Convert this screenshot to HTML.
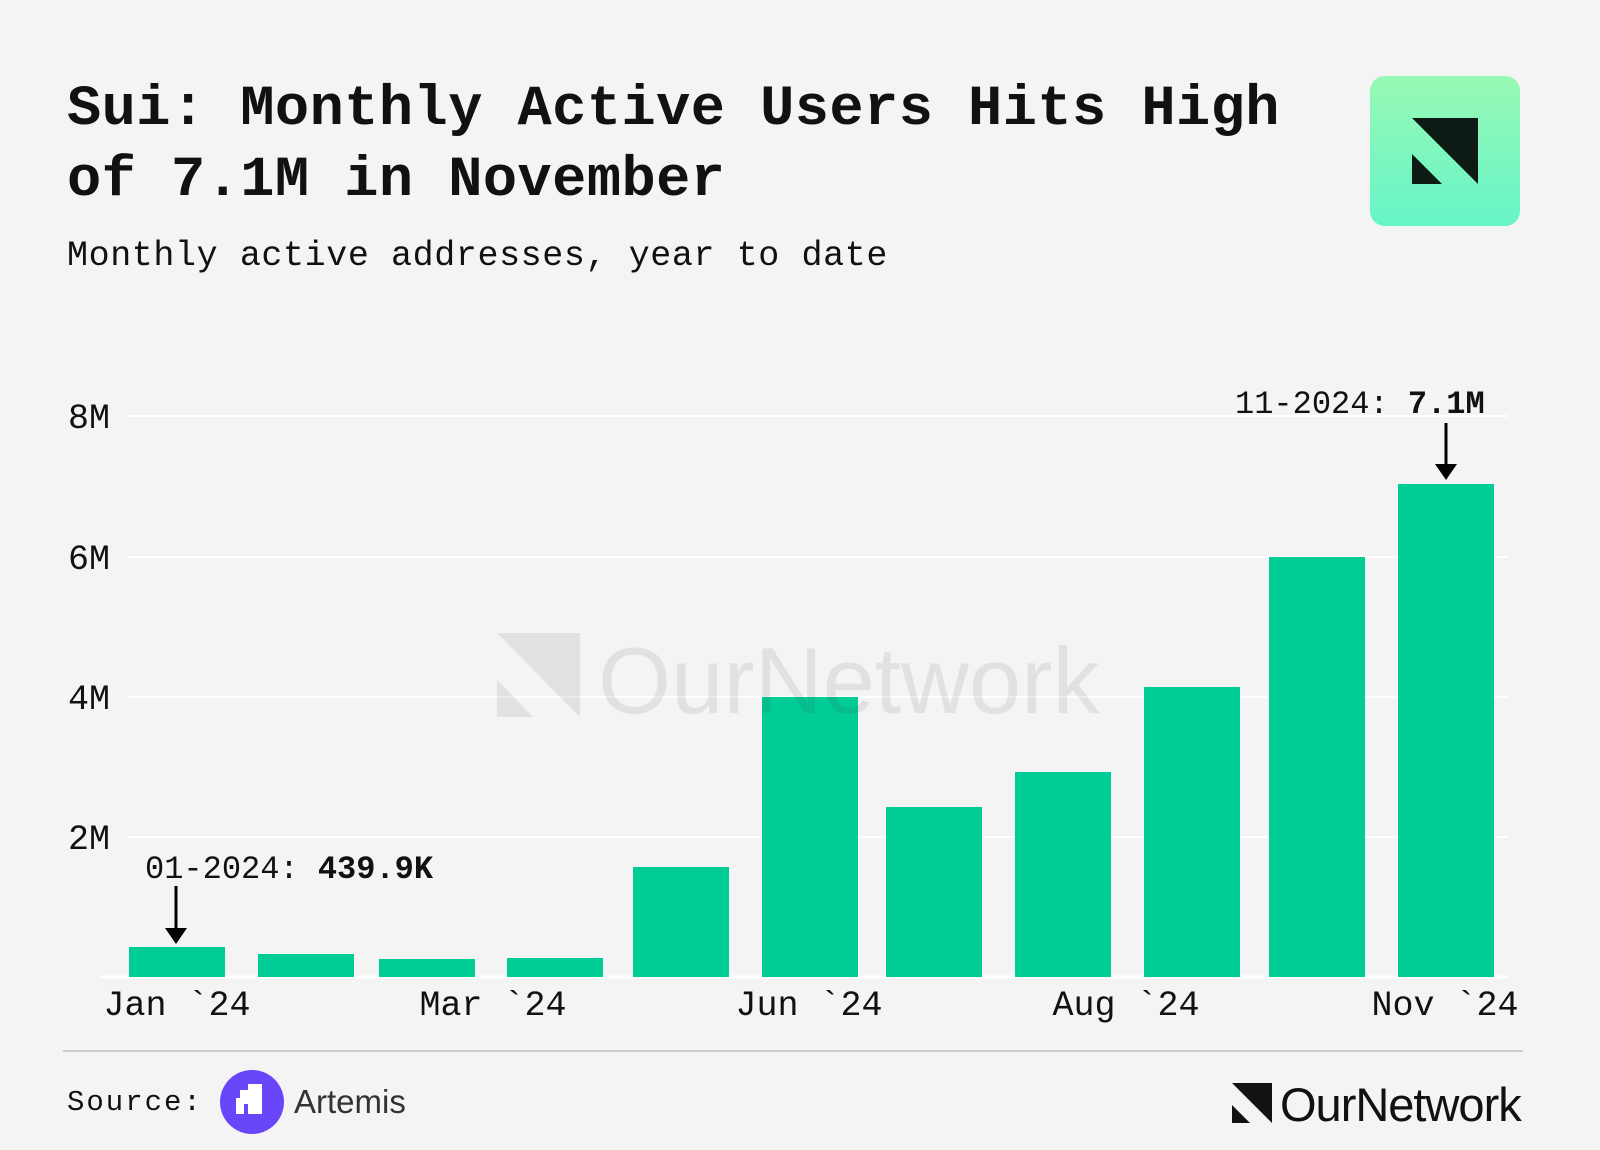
<!DOCTYPE html>
<html><head><meta charset="utf-8"><style>
html,body{margin:0;padding:0;background:#f4f4f4;}
svg{display:block}
</style></head><body>
<svg width="1600" height="1150" viewBox="0 0 1600 1150" xmlns="http://www.w3.org/2000/svg">
<defs><linearGradient id="g" x1="0" y1="0" x2="0" y2="1"><stop offset="0" stop-color="#98f9b4"/><stop offset="1" stop-color="#66f5c8"/></linearGradient></defs>
<rect width="1600" height="1150" fill="#f4f4f4"/>
<g font-family="Liberation Mono, monospace" fill="#111">
<text x="67" y="124" font-size="57" font-weight="bold" letter-spacing="0.45">Sui: Monthly Active Users Hits High</text>
<text x="67" y="195" font-size="57" font-weight="bold" letter-spacing="0.45">of 7.1M in November</text>
<text x="67" y="265" font-size="35" letter-spacing="0.6">Monthly active addresses, year to date</text>
</g>
<rect x="1370" y="76" width="150" height="150" rx="15" fill="url(#g)"/>
<g transform="translate(1412,118)" fill="#0e1a14"><polygon points="0,0 66,0 66,66"/><polygon points="0,36 0,66 30,66"/></g>
<g stroke="#ffffff" stroke-width="2">
<line x1="128" y1="416" x2="1508" y2="416"/><line x1="128" y1="557" x2="1508" y2="557"/><line x1="128" y1="697" x2="1508" y2="697"/><line x1="128" y1="837" x2="1508" y2="837"/><line x1="100" y1="977" x2="1508" y2="977" stroke-width="3"/>
</g>
<g font-family="Liberation Mono, monospace" font-size="35" fill="#111">
<text x="68" y="428">8M</text><text x="68" y="569">6M</text><text x="68" y="709">4M</text><text x="68" y="849">2M</text>
</g>
<g fill="#00cc96">
<rect x="129" y="947" width="96" height="30"/>
<rect x="258" y="954" width="96" height="23"/>
<rect x="379" y="959" width="96" height="18"/>
<rect x="507" y="958" width="96" height="19"/>
<rect x="633" y="867" width="96" height="110"/>
<rect x="762" y="697" width="96" height="280"/>
<rect x="886" y="807" width="96" height="170"/>
<rect x="1015" y="772" width="96" height="205"/>
<rect x="1144" y="687" width="96" height="290"/>
<rect x="1269" y="557" width="96" height="420"/>
<rect x="1398" y="484" width="96" height="493"/>
</g>
<g opacity="0.1" fill="#444">
<polygon points="497,633 580,633 580,717"/><polygon points="497,680 497,717 533,717"/>
<text x="598" y="713" font-family="Liberation Sans, sans-serif" font-size="94">OurNetwork</text>
</g>
<g font-family="Liberation Mono, monospace" font-size="35" fill="#111" text-anchor="middle">
<text x="177" y="1015">Jan `24</text><text x="493" y="1015">Mar `24</text><text x="809" y="1015">Jun `24</text><text x="1126" y="1015">Aug `24</text><text x="1445" y="1015">Nov `24</text>
</g>
<g font-family="Liberation Mono, monospace" font-size="32" fill="#111">
<text x="145" y="878">01-2024: <tspan font-weight="bold">439.9K</tspan></text>
<text x="1235" y="413">11-2024: <tspan font-weight="bold">7.1M</tspan></text>
</g>
<g stroke="#000" stroke-width="3"><line x1="176" y1="886" x2="176" y2="930"/><line x1="1446" y1="423" x2="1446" y2="466"/></g>
<polygon points="165,928 187,928 176,944" fill="#000"/>
<polygon points="1435,464 1457,464 1446,480" fill="#000"/>
<line x1="63" y1="1051" x2="1523" y2="1051" stroke="#cccccc" stroke-width="2"/>
<text x="67" y="1110" font-family="Liberation Mono, monospace" font-size="29" fill="#111" letter-spacing="2">Source:</text>
<circle cx="252" cy="1102" r="32" fill="#6a46fb"/>
<g fill="#fff"><rect x="240" y="1090" width="8" height="8"/><rect x="248" y="1084" width="14" height="30"/><rect x="236" y="1098" width="8" height="16"/><rect x="244" y="1098" width="8" height="6"/></g>
<text x="294" y="1113" font-family="Liberation Sans, sans-serif" font-size="33" fill="#333">Artemis</text>
<g transform="translate(1232,1083)" fill="#111"><polygon points="0,0 40,0 40,40"/><polygon points="0,22 0,40 18,40"/></g>
<text x="1280" y="1121" font-family="Liberation Sans, sans-serif" font-size="47" fill="#111" letter-spacing="-1">OurNetwork</text>
</svg>
</body></html>
